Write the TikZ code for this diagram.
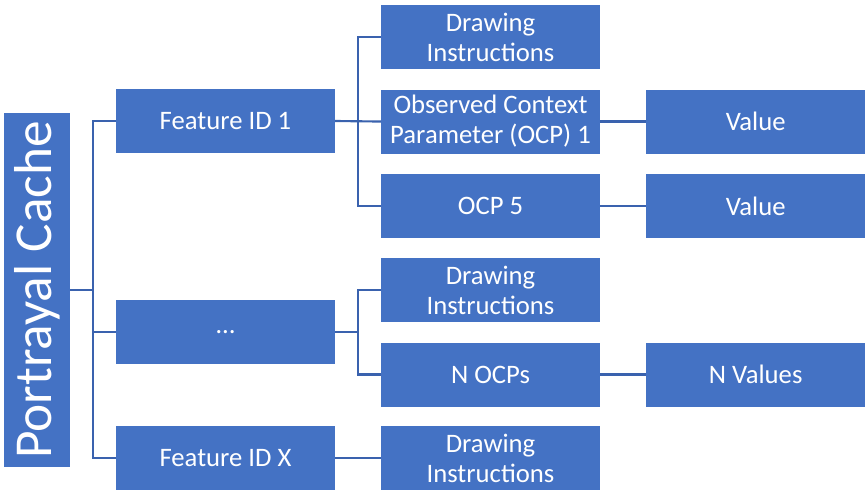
\documentclass[tikz,border=0pt]{standalone}
\usepackage{fontspec}
\setmainfont{Carlito}
\usetikzlibrary{positioning, calc}

\definecolor{boxblue}{HTML}{4472C4}
\definecolor{lineblue}{HTML}{3A62AE}

\begin{document}
\begin{tikzpicture}[
        x=0.75pt, y=-0.75pt,
        node distance=15pt and 34.5pt,
        item/.style={rectangle, fill=boxblue, text=white, minimum width=164pt, minimum height=48pt, align=center, inner sep=0pt, font=\fontsize{20}{22.5}\selectfont},
        cachebox/.style={rectangle, fill=boxblue, text=white, minimum width=354pt*0.75, minimum height=49.5pt, inner sep=0pt, rotate=90, font=\fontsize{40}{42}\selectfont},
        link/.style={draw=lineblue, line width=1.6pt}
    ]
        \useasboundingbox (0,0) rectangle (868,496);

        % root
        \node[cachebox] (cache) at (37,290) {Portrayal Cache};

        % features
        \node[item] (feat1) at (225.5,121) {Feature ID 1};
        \node[item] (featdots) at (225.5,332) {\dots};
        \node[item] (featx) at (225.5,458) {Feature ID X};

        % feature 1 children
        \node[item] (draw1) at (490.5,37) {Drawing\\Instructions};
        \node[item, below=of draw1] (ocp1) {Observed Context\\Parameter (OCP) 1};
        \node[item, below=of ocp1] (ocp5) {OCP 5};
        \node[item, right=of ocp1] (val1) {Value};
        \node[item, right=of ocp5] (val5) {Value};

        % feature ... children
        \node[item] (draw2) at (490.5,290) {Drawing\\Instructions};
        \node[item, below=of draw2] (ocpn) {N OCPs};
        \node[item, right=of ocpn] (valn) {N Values};

        % feature X children
        \node[item] (draw3) at (490.5,458) {Drawing\\Instructions};

        % connectors
        \draw[link] (cache.south) -- ++(23,0);
        \draw[link] (feat1.west) -- ++(-23,0) |- (featx.west);
        \draw[link] (featdots.west) -- ++(-23,0);

        \draw[link] (feat1.east) -- (ocp1.west);
        \draw[link] (draw1.west) -- ++(-23,0) |- (ocp5.west);
        \draw[link] (ocp1.east) -- (val1.west);
        \draw[link] (ocp5.east) -- (val5.west);

        \draw[link] (featdots.east) -- ++(23,0);
        \draw[link] (draw2.west) -- ++(-23,0) |- (ocpn.west);
        \draw[link] (ocpn.east) -- (valn.west);

        \draw[link] (featx.east) -- (draw3.west);
    \end{tikzpicture}
\end{document}
